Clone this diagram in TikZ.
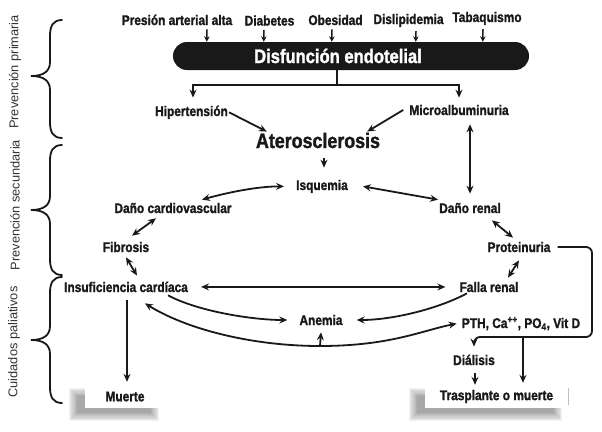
\documentclass[tikz,border=0pt]{standalone}
\usepackage{fontspec}
\setmainfont{Liberation Sans}
\newfontfamily\narrowfont{Liberation Sans}[FakeStretch=0.85, BoldFeatures={FakeBold=1.5}]
\usepackage{tikz}
\usetikzlibrary{arrows.meta,backgrounds}

\tikzset{
    lbl/.style={font=\narrowfont\bfseries\fontsize{14}{16}\selectfont, text=black!90, inner sep=1pt, anchor=base},
    biglbl/.style={lbl, font=\narrowfont\bfseries\fontsize{21}{24}\selectfont},
    bar/.style={fill=black!90, rounded corners=14pt, minimum width=356pt, minimum height=28pt, inner sep=0pt},
    bartxt/.style={font=\narrowfont\bfseries\fontsize{19.5}{22}\selectfont, text=white, inner sep=1pt, anchor=base},
    endbox/.style={lbl, anchor=center, fill=white, minimum height=23pt},
    shade/.style={fill=black, opacity=0.05},
    stagelbl/.style={font=\fontsize{12.8}{14}\selectfont, text=black!80, rotate=90, inner sep=0pt},
    link/.style={line width=1.8pt, draw=black!90, >={Stealth[length=8pt,width=7pt,inset=2.8pt]}},
    tick/.style={line width=1.5pt, draw=black!90, ->, >={Stealth[length=5.5pt,width=5.5pt,inset=1.8pt]}},
    brc/.style={line width=1.8pt, draw=black!90, line cap=round},
}

\begin{document}
\begin{tikzpicture}[x=1pt, y=-1pt]

    \useasboundingbox (0,0) rectangle (602,431);

    % stages
    \node[stagelbl] (prim) at (15,72) {Prevención primaria};
    \node[stagelbl] (secu) at (15,205) {Prevención secundaria};
    \node[stagelbl] (pali) at (14,342) {Cuidados paliativos};

    \foreach \t/\m/\b in {20/76/138, 145/210/275, 277/340/403}
        \draw[brc] (62,\t) .. controls (53,\t) and (50,\t+6) .. (50,\t+16) -- (50,\m-14)
            .. controls (50,\m-5) and (44,\m) .. (31,\m) .. controls (44,\m) and (50,\m+5) .. (50,\m+14)
            -- (50,\b-16) .. controls (50,\b-6) and (53,\b) .. (62,\b);

    % risk factors
    \node[lbl] (pres) at (177,25) {Presión arterial alta};
    \node[lbl] (diab) at (269.5,25.5) {Diabetes};
    \node[lbl] (obes) at (335.5,25) {Obesidad};
    \node[lbl] (disl) at (408.5,24) {Dislipidemia};
    \node[lbl] (taba) at (487,22) {Tabaquismo};

    \node[bar] (disf) at (351,56) {};
    \node[bartxt] (disftxt) at (338,63) {Disfunción endotelial};

    \draw[tick] ([xshift=30pt,yshift=-3pt]pres.south) -- ([xshift=34pt]disf.north west);
    \draw[tick] ([xshift=-5.5pt,yshift=-3pt]diab.south) -- ([xshift=91pt]disf.north west);
    \draw[tick] ([xshift=-3.5pt,yshift=-3pt]obes.south) -- ([xshift=159pt]disf.north west);
    \draw[tick] ([xshift=7.5pt,yshift=-3pt]disl.south) -- ([xshift=243pt]disf.north west);
    \draw[tick] ([xshift=-4pt,yshift=-3pt]taba.south) -- ([xshift=310pt]disf.north west);

    % first level
    \node[lbl] (hip) at (191.5,116) {Hipertensión};
    \node[lbl] (micro) at (459,115) {Microalbuminuria};
    \node[biglbl] (ater) at (318,148) {Aterosclerosis};
    \node[lbl] (isq) at (322,190) {Isquemia};

    \coordinate (split) at (337,85);
    \draw[link] ([xshift=-14pt]disf.south) -- (split);
    \draw[link,->] (split) -| ([xshift=1.5pt,yshift=7pt]hip.north);
    \draw[link,->] (split) -| ([yshift=6pt]micro.north);

    \draw[link,->] (hip.east) -- ([xshift=12pt]ater.north west);
    \draw[link,->] ([xshift=-5pt]micro.west) -- ([xshift=-14pt]ater.north east);
    \draw[link,->] ([xshift=6pt,yshift=-9pt]ater.south) -- ([xshift=2pt,yshift=11pt]isq.north);

    % heart and kidney
    \node[lbl] (dcv) at (173,213) {Daño cardiovascular};
    \node[lbl] (drenal) at (470,213) {Daño renal};
    \node[lbl] (fib) at (126,252) {Fibrosis};
    \node[lbl] (prot) at (519,252) {Proteinuria};
    \node[lbl] (insuf) at (126,292) {Insuficiencia cardíaca};
    \node[lbl] (falla) at (489,292) {Falla renal};

    \draw[link,<->] ([xshift=11pt,yshift=-8pt]micro.south) -- ([yshift=8pt]drenal.north);
    \draw[link,<->] ([xshift=-11pt]isq.west) .. controls +(-27,0) and +(25,-7) .. ([xshift=29pt,yshift=2pt]dcv.north);
    \draw[link,<->] ([xshift=14pt]isq.east) -- ([yshift=2pt]drenal.north west);

    \draw[link,<->] ([xshift=-17pt,yshift=-4pt]dcv.south) -- ([xshift=6pt,yshift=5pt]fib.north);
    \draw[link,<->] ([yshift=-4pt]fib.south) -- ([xshift=11pt,yshift=5pt]insuf.north);
    \draw[link,<->] ([xshift=22pt,yshift=-6pt]drenal.south) -- ([xshift=-6pt,yshift=3pt]prot.north);
    \draw[link,<->] ([yshift=-7pt]prot.south) -- ([xshift=19pt,yshift=3pt]falla.north);

    \draw[link,<->] ([xshift=12pt]insuf.east) -- ([xshift=-13pt]falla.west);

    % palliative
    \node[lbl] (anemia) at (321,325) {Anemia};
    \node[lbl] (pth) at (521,328) {PTH, Ca\textsuperscript{++}, PO\textsubscript{4}, Vit D};
    \node[lbl] (dial) at (474,365) {Diálisis};
    \node[endbox, minimum width=80pt] (muerte) at (125,396.5) {Muerte};
    \node[endbox, minimum width=143pt] (trasp) at (496.5,396.5) {Trasplante o muerte};

    \begin{scope}[on background layer]
        \foreach \bx in {muerte, trasp}
            \foreach \k in {0,...,7}
                \fill[shade] ([xshift={(-16+1.2*\k)*1pt}, yshift={(-3-1.2*\k)*1pt}]\bx.north west)
                    rectangle ([xshift={(-6-1.2*\k)*1pt}, yshift={(-13+1.2*\k)*1pt}]\bx.south east);
    \end{scope}

    \draw[link,->] ([xshift=42pt,yshift=-2pt]insuf.south) .. controls +(30,16) and +(-35,0) .. ([xshift=-11pt]anemia.west);
    \draw[link,->] ([xshift=-22pt]falla.south) .. controls +(-30,16) and +(35,0) .. ([xshift=13pt]anemia.east);

    \coordinate (dip) at (320,346);
    \draw[link,<->] ([xshift=19pt,yshift=-10pt]insuf.south) .. controls +(40,25) and +(-70,0) .. (dip)
        .. controls +(70,0) and +(-35,7) .. ([xshift=-4pt]pth.west);
    \draw[link,->] (dip) -- ([yshift=-6pt]anemia.south);

    \draw[link,->] ([xshift=1pt,yshift=-7pt]insuf.south) -- ([xshift=2pt,yshift=3pt]muerte.north);

    \coordinate (turn) at (592,337);
    \coordinate (split2) at (523,337);
    \draw[link,->,rounded corners=6pt] ([xshift=6pt]prot.east) -| (turn) -| ([yshift=7pt]dial.north);
    \draw[link,->] (split2) -- ([xshift=26.5pt,yshift=2pt]trasp.north);
    \draw[link,->] ([xshift=1pt,yshift=-7pt]dial.south) -- ([xshift=-21.5pt]trasp.north);

    \draw[gray!50, line width=0.8pt] ([yshift=-3pt]trasp.north east) -- ([yshift=3pt]trasp.south east);

\end{tikzpicture}
\end{document}
